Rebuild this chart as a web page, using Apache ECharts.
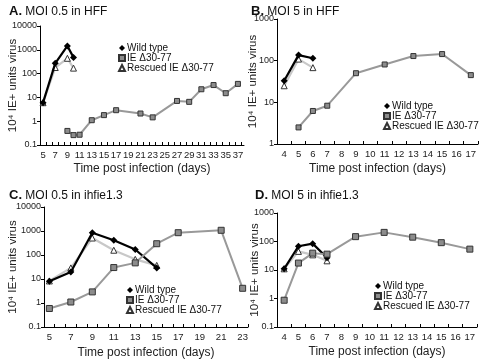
<!DOCTYPE html>
<html><head><meta charset="utf-8">
<script src="https://cdn.jsdelivr.net/npm/echarts@6/dist/echarts.min.js"></script>
<style>html,body{margin:0;padding:0;background:#fff}#c{width:480px;height:361px}</style>
</head><body><div id="c"></div>
<script>
// ---- Panel A: MOI 0.5 in HFF ----
const daysA_wt = [5, 7, 9, 10];
const wtA = [6, 270, 1450, 480];
const rescA = [6, 180, 440, 170];
const daysA_ie = [9, 10, 11, 13, 15, 17, 21, 23, 27, 29, 31, 33, 35, 37];
const ieA = [0.39, 0.26, 0.27, 1.1, 1.8, 2.9, 2.1, 1.45, 7.1, 6.5, 22, 33, 15, 37];
const xLabelsA = [5, 7, 9, 11, 13, 15, 17, 19, 21, 23, 25, 27, 29, 31, 33, 35, 37];
const xTicksA = [4.5,5.5,6.5,7.5,8.5,9.5,10.5,11.5,12.5,13.5,14.5,15.5,16.5,17.5,18.5,19.5,20.5,21.5,22.5,23.5,24.5,25.5,26.5,27.5,28.5,29.5,30.5,31.5,32.5,33.5,34.5,35.5,36.5,37.5];

// ---- Panel B: MOI 5 in HFF ----
const daysB_wt = [4, 5, 6];
const wtB = [33, 136, 114];
const rescB = [25, 109, 68];
const daysB_ie = [5, 6, 7, 9, 11, 13, 15, 17];
const ieB = [2.5, 6.2, 8.3, 50, 81, 129, 144, 45];
const xLabelsB = [4, 5, 6, 7, 8, 9, 10, 11, 12, 13, 14, 15, 16, 17];
const xTicksB = [3.5,4.5,5.5,6.5,7.5,8.5,9.5,10.5,11.5,12.5,13.5,14.5,15.5,16.5,17.5];

// ---- Panel C: MOI 0.5 in ihfie1.3 ----
const daysC_wt = [5, 7, 9, 11, 13, 15];
const wtC = [8, 19.5, 850, 410, 170, 29];
const rescC = [8.3, 29, 510, 158, 66, 37];
const daysC_ie = [5, 7, 9, 11, 13, 15, 17, 21, 23];
const ieC = [0.59, 1.1, 2.9, 30, 47, 295, 850, 1070, 4.1];
const xLabelsC = [5, 7, 9, 11, 13, 15, 17, 19, 21, 23];
const xTicksC = [4.5,5.5,6.5,7.5,8.5,9.5,10.5,11.5,12.5,13.5,14.5,15.5,16.5,17.5,18.5,19.5,20.5,21.5,22.5,23.5];

// ---- Panel D: MOI 5 in ihfie1.3 ----
const daysD_wt = [4, 5, 6, 7];
const wtD = [11, 68, 84, 27];
const rescD = [11, 45, 34, 21];
const daysD_ie = [4, 5, 6, 7, 9, 11, 13, 15, 17];
const ieD = [0.87, 17.5, 39, 36, 148, 209, 142, 91, 54];
const xLabelsD = [4, 5, 6, 7, 8, 9, 10, 11, 12, 13, 14, 15, 16, 17];
const xTicksD = [3.5,4.5,5.5,6.5,7.5,8.5,9.5,10.5,11.5,12.5,13.5,14.5,15.5,16.5,17.5];

const names = ['Wild type', 'IE \u039430-77', 'Rescued IE \u039430-77'];
const titlesLetters = ['A.', 'B.', 'C.', 'D.'];
const titlesText = ['MOI 0.5 in HFF', 'MOI 5 in HFF', 'MOI 0.5 in ihfie1.3', 'MOI 5 in ihfie1.3'];
const yName = '10\u2074 IE+ units virus';
const xName = 'Time post infection (days)';

const FONT = 'Arial, "Liberation Sans", sans-serif';
const pair = (d, v) => d.map((x, i) => [x, v[i]]);

const panels = [
  {grid:{left:40, top:26, width:204, height:119}, xmin:4.5, xmax:38, ymin:0.1, ymax:10000, xl:xLabelsA, xt:xTicksA,
   wt:pair(daysA_wt, wtA), re:pair(daysA_wt, rescA), ie:pair(daysA_ie, ieA), sq:5, yGap:21, xGap:18,
   title:{left:4, top:0}, legend:{left:118, top:43}},
  {grid:{left:277, top:19, width:201, height:125}, xmin:3.5, xmax:17.5, ymin:1, ymax:1000, xl:xLabelsB, xt:xTicksB,
   wt:pair(daysB_wt, wtB), re:pair(daysB_wt, rescB), ie:pair(daysB_ie, ieB), sq:5, yGap:18, xGap:19,
   title:{left:246, top:0}, legend:{left:383, top:101}},
  {grid:{left:44, top:207, width:204, height:120}, xmin:4.5, xmax:23.5, ymin:0.1, ymax:10000, xl:xLabelsC, xt:xTicksC,
   wt:pair(daysC_wt, wtC), re:pair(daysC_wt, rescC), ie:pair(daysC_ie, ieC), sq:6, yGap:25, xGap:20,
   title:{left:4, top:184}, legend:{left:126, top:285}},
  {grid:{left:277, top:213, width:200, height:114}, xmin:3.5, xmax:17.5, ymin:0.1, ymax:1000, xl:xLabelsD, xt:xTicksD,
   wt:pair(daysD_wt, wtD), re:pair(daysD_wt, rescD), ie:pair(daysD_ie, ieD), sq:6, yGap:16, xGap:19,
   title:{left:250, top:184}, legend:{left:374, top:281}}
];

const grid = [], xAxis = [], yAxis = [], series = [], title = [], legend = [];
panels.forEach((p, i) => {
  grid.push(Object.assign({containLabel:false}, p.grid));
  xAxis.push({
    type:'value', gridIndex:i, min:p.xmin, max:p.xmax,
    axisLine:{show:true, onZero:false, lineStyle:{color:'#000', width:1}},
    axisTick:{show:true, inside:true, length:3, customValues:p.xt, lineStyle:{color:'#000'}},
    axisLabel:{customValues:p.xl, fontSize:9.5, margin:5, color:'#222', fontFamily:FONT, hideOverlap:false},
    splitLine:{show:false},
    name:xName, nameLocation:'middle', nameGap:p.xGap, nameMoveOverlap:false,
    nameTextStyle:{fontSize:12, color:'#222', fontFamily:FONT}
  });
  yAxis.push({
    type:'log', logBase:10, gridIndex:i, min:p.ymin, max:p.ymax,
    axisLine:{show:true, lineStyle:{color:'#000', width:1}},
    axisTick:{show:true, inside:false, length:3, lineStyle:{color:'#000'}},
    axisLabel:{fontSize:9, margin:3, color:'#222', fontFamily:FONT,
      formatter:v => String(+(+v).toPrecision(6))},
    splitLine:{show:false},
    name:yName, nameLocation:'middle', nameRotate:90, nameGap:p.yGap, nameMoveOverlap:false,
    nameTextStyle:{fontSize:11.5, color:'#222', fontFamily:FONT}
  });
  series.push({
    name:names[2], type:'line', xAxisIndex:i, yAxisIndex:i, data:p.re,
    symbol:'triangle', symbolSize:6, z:2,
    lineStyle:{color:'#c8c8c8', width:2.2},
    itemStyle:{color:'#fff', borderColor:'#333', borderWidth:1}
  });
  series.push({
    name:names[0], type:'line', xAxisIndex:i, yAxisIndex:i, data:p.wt,
    symbol:'diamond', symbolSize:7, z:3,
    lineStyle:{color:'#000', width:2.2},
    itemStyle:{color:'#000', borderColor:'#000', borderWidth:0}
  });
  series.push({
    name:names[1], type:'line', xAxisIndex:i, yAxisIndex:i, data:p.ie,
    symbol:'rect', symbolSize:p.sq, z:4,
    lineStyle:{color:'#999', width:2},
    itemStyle:{color:'#8c8c8c', borderColor:'#333', borderWidth:1}
  });
  title.push({
    text:'{b|' + titlesLetters[i] + '} ' + titlesText[i],
    left:p.title.left, top:p.title.top,
    textStyle:{fontSize:12, fontWeight:'normal', color:'#111', fontFamily:FONT,
      rich:{b:{fontSize:13, fontWeight:'bold', color:'#111', fontFamily:FONT}}}
  });
  legend.push({
    left:p.legend.left, top:p.legend.top, orient:'vertical', itemGap:0,
    itemWidth:6, itemHeight:6, padding:0, selectedMode:false,
    textStyle:{fontSize:10, color:'#111', fontFamily:FONT, padding:[0,0,0,-3]},
    data:[{name:names[0], icon:'diamond'}, {name:names[1], icon:'rect'}, {name:names[2], icon:'triangle'}]
  });
});

const chart = echarts.init(document.getElementById('c'), null, {renderer:'canvas'});
chart.setOption({animation:false, backgroundColor:'#fff', title, legend, grid, xAxis, yAxis, series});
</script>
</body></html>
